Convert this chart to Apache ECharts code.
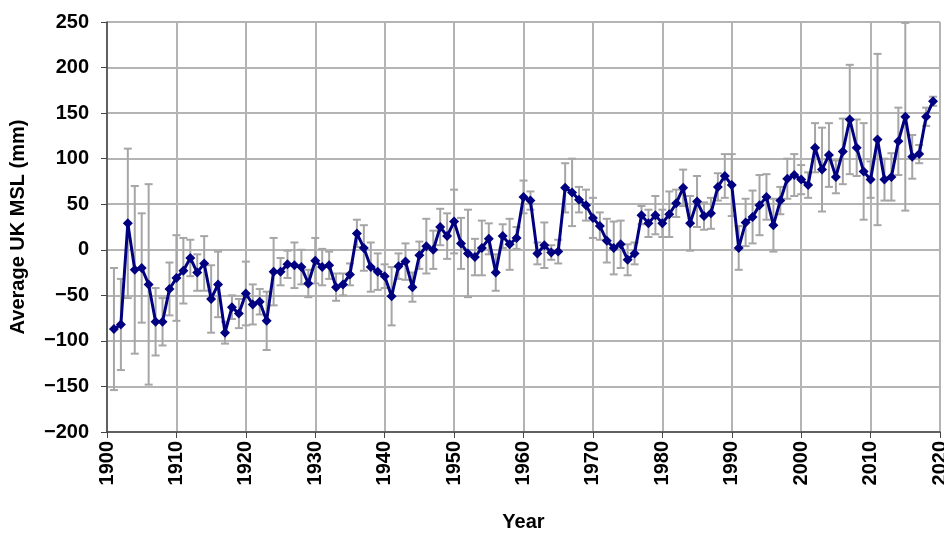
<!DOCTYPE html>
<html>
<head>
<meta charset="utf-8">
<script src="https://cdn.jsdelivr.net/npm/echarts@6/dist/echarts.min.js"></script>
<style>
html,body{margin:0;padding:0;background:#fff;}
#chart{width:944px;height:533px;}
</style>
</head>
<body>
<div id="chart"></div>
<script>
// annual mean sea level, 1901-2019
var years = [];
for (var y = 1901; y <= 2019; y++) years.push(y);

var msl = [
  -87, -82, 29, -22, -20, -38, -79, -79, -43, -31,
  -23, -9, -25, -15, -54, -38, -91, -63, -70, -48,
  -60, -57, -78, -24, -24, -16, -17, -19, -37, -12,
  -19, -17, -41, -38, -27, 18, 2, -19, -24, -29,
  -51, -18, -13, -41, -6, 4, 0, 25, 15, 31,
  7, -4, -8, 2, 12, -25, 15, 6, 13, 58,
  54, -4, 5, -3, -2, 68, 63, 55, 49, 35,
  26, 10, 2, 6, -11, -4, 38, 29, 38, 29,
  39, 51, 68, 29, 53, 37, 40, 69, 81, 71,
  2, 30, 36, 49, 58, 27, 54, 78, 82, 77,
  71, 112, 88, 104, 80, 108, 143, 112, 86, 77,
  121, 77, 80, 119, 146, 102, 105, 146, 163
];

// error bar half widths
var err = [
  67, 50, 82, 92, 60, 110, 37, 26, 29, 47,
  36, 20, 20, 30, 37, 36, 12, 13, 16, 35,
  22, 14, 32, 37, 15, 15, 25, 19, 15, 25,
  20, 15, 15, 12, 12, 15, 25, 27, 20, 13,
  32, 14, 20, 16, 15, 30, 21, 20, 25, 35,
  28, 48, 20, 30, 17, 20, 13, 28, 12, 18,
  10, 12, 25, 8, 13, 27, 37, 14, 17, 22,
  15, 24, 29, 26, 17, 12, 10, 15, 21, 15,
  25, 15, 20, 30, 28, 15, 17, 15, 24, 34,
  24, 26, 29, 33, 25, 29, 15, 22, 23, 16,
  14, 27, 46, 35, 18, 36, 60, 31, 53, 20,
  94, 23, 26, 37, 103, 24, 10, 10, 5
];

var lineData = [], errData = [];
for (var i = 0; i < years.length; i++) {
  lineData.push([years[i], msl[i]]);
  errData.push([years[i], msl[i] + err[i], msl[i] - err[i]]);
}

var font = '"Liberation Sans", Arial, sans-serif';

function minus(v) { return String(v).replace('-', '\u2212'); }

var chart = echarts.init(document.getElementById('chart'));
chart.setOption({
  animation: false,
  backgroundColor: '#fff',
  grid: { left: 107, right: 4, top: 22, bottom: 101, outerBoundsMode: 'none', containLabel: false },
  xAxis: {
    type: 'value', min: 1900, max: 2020, interval: 10,
    name: 'Year', nameLocation: 'middle', nameGap: 80,
    nameTextStyle: { fontFamily: font, fontWeight: 'bold', fontSize: 20, color: '#000' },
    axisLine: { onZero: false, lineStyle: { color: '#444', width: 1.5 } },
    axisTick: { show: true, length: 6, lineStyle: { color: '#444' } },
    axisLabel: { rotate: 90, margin: 9, fontFamily: font, fontWeight: 'bold', fontSize: 20, color: '#000',
      hideOverlap: false, formatter: function (v) { return String(v); } },
    splitLine: { show: true, lineStyle: { color: '#b4b4b4', width: 2 } }
  },
  yAxis: {
    type: 'value', min: -200, max: 250, interval: 50,
    name: 'Average UK MSL (mm)', nameLocation: 'middle', nameGap: 79, nameRotate: 90,
    nameTextStyle: { fontFamily: font, fontWeight: 'bold', fontSize: 20, color: '#000' },
    axisLine: { show: true, lineStyle: { color: '#444', width: 1.5 } },
    axisTick: { show: true, length: 6, lineStyle: { color: '#444' } },
    axisLabel: { margin: 18, fontFamily: font, fontWeight: 'bold', fontSize: 20, color: '#000', formatter: minus },
    splitLine: { show: true, lineStyle: { color: '#b4b4b4', width: 2 } }
  },
  series: [
    {
      type: 'custom',
      data: errData,
      z: 1,
      renderItem: function (params, api) {
        var top = api.coord([api.value(0), api.value(1)]);
        var bot = api.coord([api.value(0), api.value(2)]);
        var cap = 4;
        var style = { stroke: '#a6a6a6', lineWidth: 2 };
        return {
          type: 'group',
          children: [
            { type: 'line', shape: { x1: top[0], y1: top[1], x2: bot[0], y2: bot[1] }, style: style },
            { type: 'line', shape: { x1: top[0] - cap, y1: top[1], x2: top[0] + cap, y2: top[1] }, style: style },
            { type: 'line', shape: { x1: bot[0] - cap, y1: bot[1], x2: bot[0] + cap, y2: bot[1] }, style: style }
          ]
        };
      }
    },
    {
      type: 'line',
      data: lineData,
      z: 3,
      symbol: 'diamond',
      symbolSize: 10,
      lineStyle: { color: '#000080', width: 3 },
      itemStyle: { color: '#000080' }
    }
  ]
});
</script>
</body>
</html>
